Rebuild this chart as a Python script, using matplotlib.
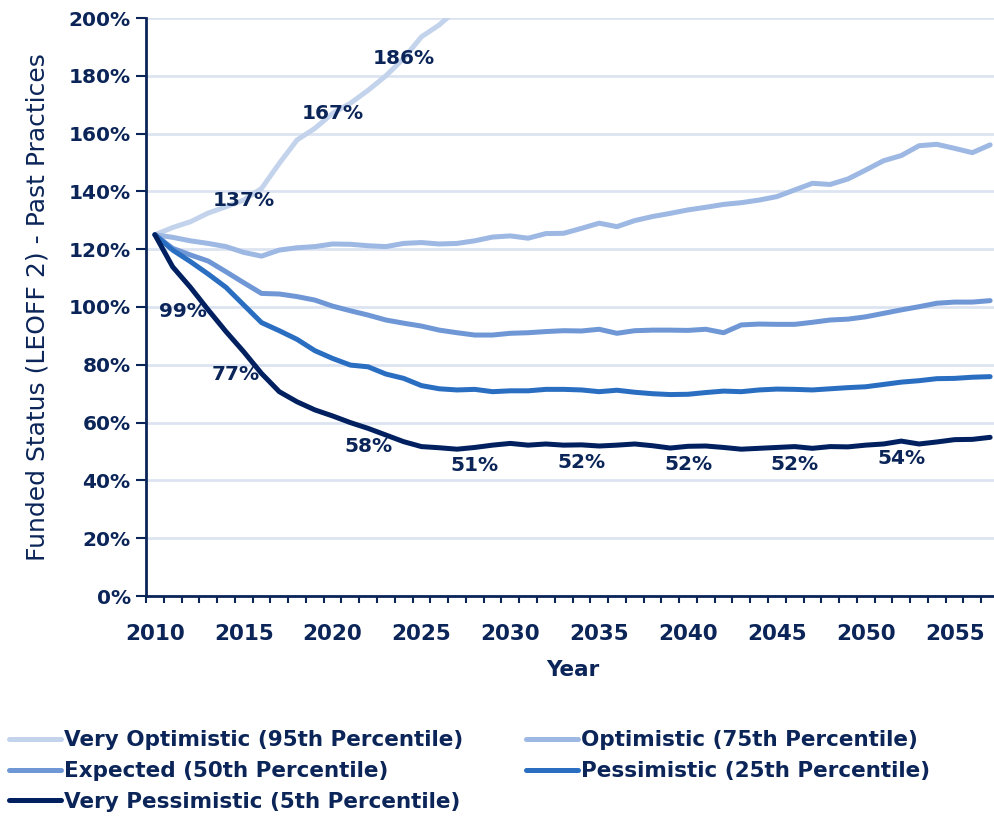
import numpy as np
import matplotlib.pyplot as plt
from matplotlib.ticker import FuncFormatter

# funded status (%) by year
years = list(range(2010, 2058))

# 95th percentile leaves the chart after ~2027, only the visible part kept
very_optimistic = [125, 127.5, 129.5, 132.5, 134.7, 137, 141, 149.7, 157.8, 161.8,
                   167, 170.5, 175, 180, 186, 193.5, 197.6, 203, 208]

optimistic = [125, 124.1, 122.9, 122, 120.9, 118.9, 117.6, 119.7, 120.5, 120.9,
              121.8, 121.7, 121.2, 120.9, 122, 122.3, 121.8, 122, 122.9, 124.2,
              124.6, 123.8, 125.4, 125.5, 127.2, 129, 127.8, 129.9, 131.3, 132.4,
              133.6, 134.5, 135.5, 136.1, 137, 138.2, 140.5, 142.8, 142.4, 144.3,
              147.4, 150.6, 152.4, 155.8, 156.3, 154.9, 153.4, 156.1]

expected = [125, 120.3, 118, 115.9, 112.2, 108.4, 104.7, 104.5, 103.6, 102.4,
            100.3, 98.7, 97.2, 95.5, 94.4, 93.4, 92, 91.1, 90.3, 90.3,
            90.9, 91.1, 91.5, 91.8, 91.7, 92.3, 90.9, 91.8, 92, 92,
            91.9, 92.3, 91.1, 93.8, 94.1, 94, 94, 94.7, 95.5, 95.8,
            96.6, 97.8, 99, 100.1, 101.3, 101.7, 101.7, 102.2]

pessimistic = [125, 119.7, 115.7, 111.4, 106.8, 100.7, 94.6, 91.8, 88.8, 84.9,
               82.2, 79.9, 79.3, 76.8, 75.3, 72.8, 71.7, 71.3, 71.5, 70.7,
               71, 71, 71.5, 71.5, 71.3, 70.7, 71.2, 70.5, 70, 69.7,
               69.8, 70.4, 70.9, 70.7, 71.3, 71.6, 71.5, 71.3, 71.7, 72.1,
               72.4, 73.2, 74, 74.5, 75.2, 75.3, 75.7, 75.9]

very_pessimistic = [125, 113.9, 106.8, 99, 91.5, 84.5, 77, 70.7, 67.2, 64.4,
                    62.3, 60, 58, 55.7, 53.4, 51.7, 51.3, 50.8, 51.4, 52.2,
                    52.8, 52.2, 52.6, 52.2, 52.3, 51.9, 52.2, 52.6, 52, 51.2,
                    51.8, 51.9, 51.4, 50.8, 51.1, 51.4, 51.7, 51.1, 51.7, 51.6,
                    52.2, 52.6, 53.6, 52.6, 53.3, 54.1, 54.2, 54.9]

names = ['Very Optimistic (95th Percentile)', 'Optimistic (75th Percentile)',
         'Expected (50th Percentile)', 'Pessimistic (25th Percentile)',
         'Very Pessimistic (5th Percentile)']
colors = ['#c3d3ec', '#9db8e3', '#6f97d6', '#2a6ec2', '#002060']

# data labels
vo_label_years = [2015, 2020, 2024]
vp_label_years = [2013, 2016, 2022, 2028, 2034, 2040, 2046, 2052]

navy = '#0b2559'

fig = plt.figure(figsize=(9.95, 8.22), dpi=100)
ax = fig.add_axes([146/995, (822-596)/822, (999-146)/995, (596-18)/822])

series = [very_optimistic, optimistic, expected, pessimistic, very_pessimistic]
lines = []
for vals, name, c in zip(series, names, colors):
    ln, = ax.plot(years[:len(vals)], vals, color=c, lw=3.6, label=name,
                  solid_capstyle='round', solid_joinstyle='round')
    lines.append(ln)

for yr in vo_label_years:
    v = very_optimistic[years.index(yr)]
    ax.text(yr, v, f'{v:.0f}%', ha='center', va='center', fontsize=14.5,
            fontweight='bold', color=navy)

for yr in vp_label_years:
    v = very_pessimistic[years.index(yr)]
    if yr < 2020:
        ax.annotate(f'{v:.0f}%', (yr, v), xytext=(-1, -1), textcoords='offset points',
                    ha='right', va='center', fontsize=14.5, fontweight='bold', color=navy)
    else:
        ax.annotate(f'{v:.0f}%', (yr, v), xytext=(0, -6), textcoords='offset points',
                    ha='center', va='top', fontsize=14.5, fontweight='bold', color=navy)

ax.set_xlim(2009.5, 2057.5)
ax.set_ylim(0, 200)
ax.set_yticks(np.arange(0, 201, 20))
ax.yaxis.set_major_formatter(FuncFormatter(lambda v, p: f'{v:.0f}%'))
ax.set_xticks(range(2010, 2056, 5))
ax.set_xticks(np.arange(2009.5, 2057, 1), minor=True)
ax.tick_params(axis='x', which='major', length=0, pad=20, labelsize=15.5, labelcolor=navy)
ax.tick_params(axis='x', which='minor', length=5, width=1.5, color=navy, direction='out')
ax.tick_params(axis='y', which='major', length=7, width=1.5, color=navy, labelsize=14.5,
               labelcolor=navy, pad=4)
for lab in ax.get_xticklabels() + ax.get_yticklabels():
    lab.set_fontweight('bold')

ax.grid(axis='y', color='#dde4f1', lw=2)
ax.set_axisbelow(True)
for s in ['top', 'right']:
    ax.spines[s].set_visible(False)
for s in ['left', 'bottom']:
    ax.spines[s].set_color(navy)
    ax.spines[s].set_linewidth(2)
    ax.spines[s].set_zorder(5)

ax.set_xlabel('Year', fontsize=15.5, fontweight='bold', color=navy, labelpad=12)
ax.set_ylabel('Funded Status (LEOFF 2) - Past Practices', fontsize=18, color=navy,
              labelpad=14)

order = [0, 2, 4, 1, 3]
leg = fig.legend([lines[i] for i in order], [names[i] for i in order],
                 loc='upper left', bbox_to_anchor=(0.0, 0.122), ncol=2, frameon=False,
                 prop={'weight': 'bold', 'size': 15.5},
                 handlelength=2.45, handletextpad=0.12, columnspacing=2.9,
                 labelspacing=0.5, borderaxespad=0)
for t in leg.get_texts():
    t.set_color(navy)

fig.savefig('out.png', dpi=100)
